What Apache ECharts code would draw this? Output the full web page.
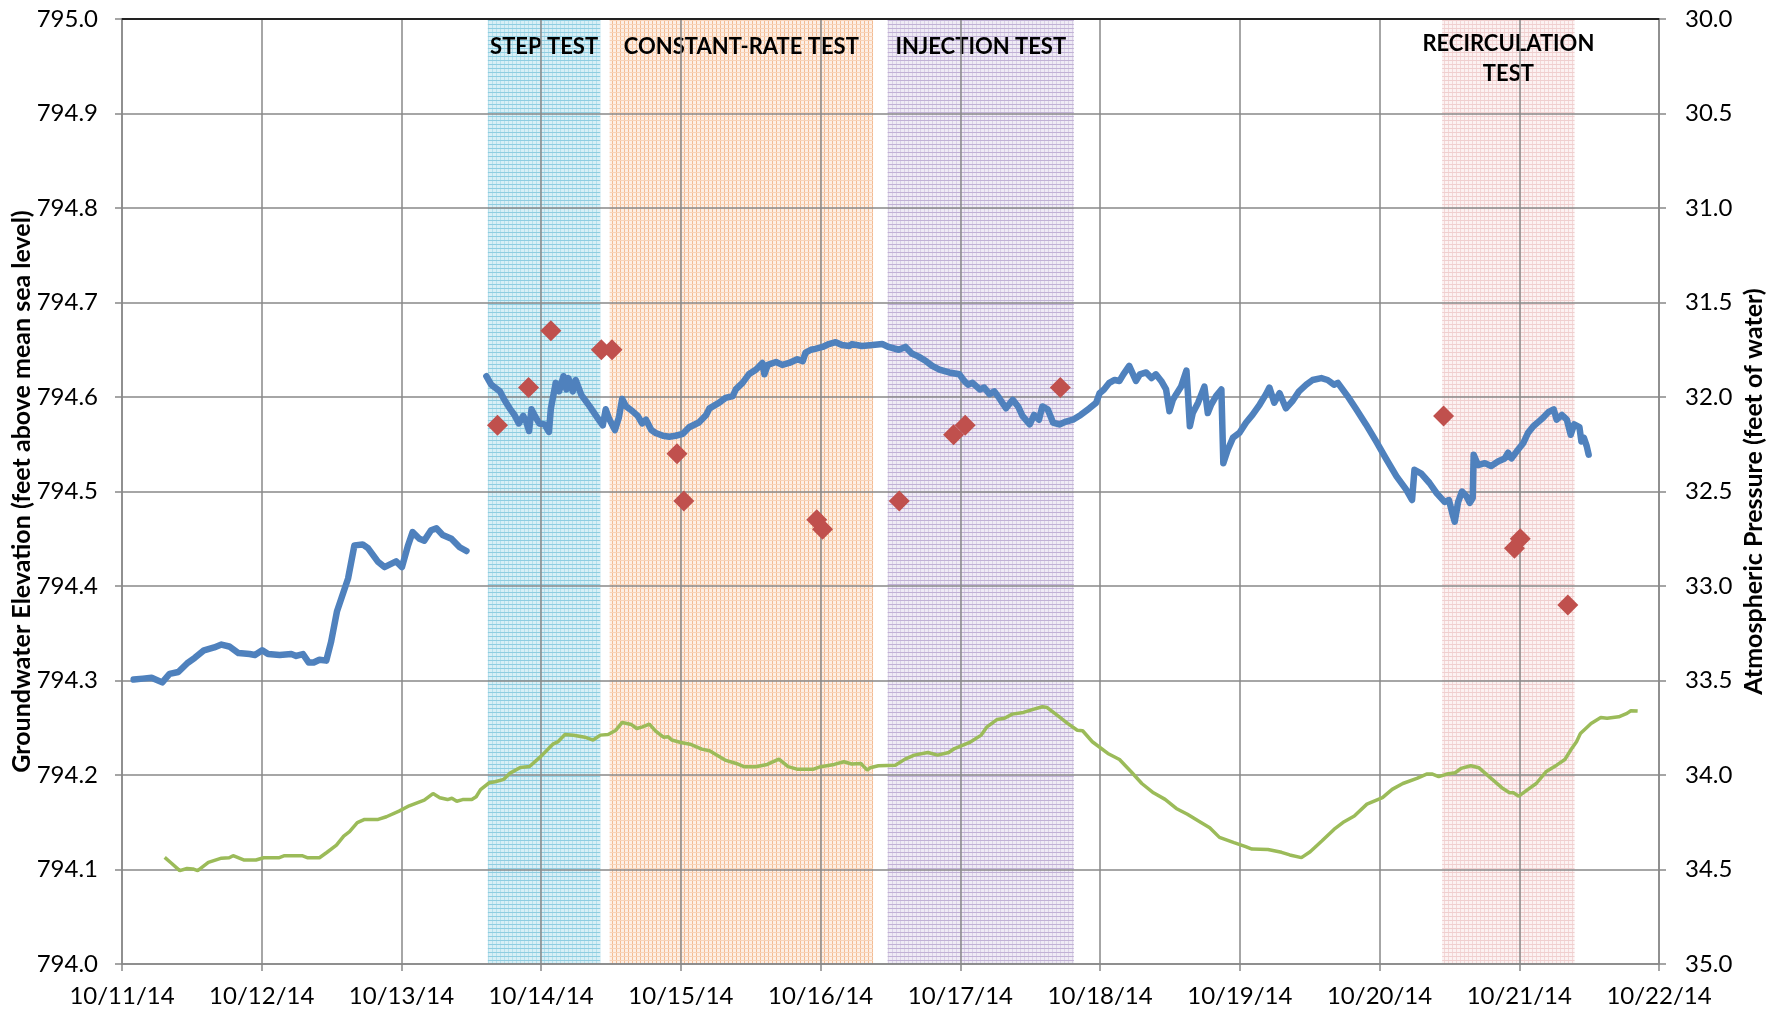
<!DOCTYPE html>
<html>
<head>
<meta charset="utf-8">
<title>Groundwater Elevation and Atmospheric Pressure</title>
<script src="https://cdn.jsdelivr.net/npm/echarts@6/dist/echarts.min.js"></script>
<style>
  html, body { margin: 0; padding: 0; background: #ffffff; }
  #chart { width: 1779px; height: 1015px; }
</style>
</head>
<body>
<div id="chart"></div>
<script>
// Groundwater elevation before the tests (feet above mean sea level), Oct 2014
const groundwaterBefore = [
  ['10-11 02:00', 794.301], ['10-11 03:35', 794.302], ['10-11 05:05', 794.303], ['10-11 06:55', 794.298],
  ['10-11 08:10', 794.307], ['10-11 09:40', 794.309], ['10-11 11:10', 794.318], ['10-11 12:30', 794.324],
  ['10-11 14:05', 794.332], ['10-11 15:50', 794.335], ['10-11 17:05', 794.338], ['10-11 18:25', 794.336],
  ['10-11 20:00', 794.329], ['10-11 21:55', 794.328], ['10-11 22:50', 794.327], ['10-12 00:05', 794.332],
  ['10-12 01:05', 794.328], ['10-12 03:05', 794.327], ['10-12 05:05', 794.328], ['10-12 05:55', 794.326],
  ['10-12 07:05', 794.328], ['10-12 08:05', 794.319], ['10-12 08:55', 794.319], ['10-12 09:55', 794.322],
  ['10-12 11:05', 794.321], ['10-12 11:55', 794.341], ['10-12 12:55', 794.373], ['10-12 14:50', 794.408],
  ['10-12 15:55', 794.443], ['10-12 17:20', 794.444], ['10-12 18:15', 794.440], ['10-12 19:55', 794.426],
  ['10-12 21:05', 794.420], ['10-12 23:05', 794.426], ['10-13 00:05', 794.420], ['10-13 01:05', 794.442],
  ['10-13 01:55', 794.457], ['10-13 03:05', 794.450], ['10-13 03:55', 794.448], ['10-13 05:05', 794.459],
  ['10-13 06:00', 794.461], ['10-13 07:05', 794.454], ['10-13 08:35', 794.450], ['10-13 10:00', 794.441],
  ['10-13 11:10', 794.437]
];

// Groundwater elevation during and after the aquifer tests
const groundwaterTests = [
  ['10-13 14:35', 794.622], ['10-13 15:25', 794.613], ['10-13 16:55', 794.606], ['10-13 17:40', 794.597],
  ['10-13 18:35', 794.588], ['10-13 19:25', 794.581], ['10-13 20:10', 794.572], ['10-13 20:55', 794.580],
  ['10-13 21:25', 794.574], ['10-13 21:55', 794.564], ['10-13 22:20', 794.587], ['10-13 22:55', 794.580],
  ['10-13 23:40', 794.572], ['10-14 00:35', 794.571], ['10-14 01:20', 794.563], ['10-14 01:40', 794.588],
  ['10-14 02:30', 794.615], ['10-14 03:05', 794.606], ['10-14 03:50', 794.622], ['10-14 04:20', 794.608],
  ['10-14 04:40', 794.620], ['10-14 05:25', 794.606], ['10-14 05:55', 794.618], ['10-14 06:55', 794.602],
  ['10-14 08:20', 794.590], ['10-14 09:40', 794.578], ['10-14 10:35', 794.570], ['10-14 11:05', 794.587],
  ['10-14 11:40', 794.577], ['10-14 12:40', 794.565], ['10-14 13:20', 794.578], ['10-14 13:55', 794.598],
  ['10-14 14:35', 794.590], ['10-14 15:40', 794.585], ['10-14 16:35', 794.580], ['10-14 17:20', 794.572],
  ['10-14 18:00', 794.576], ['10-14 18:55', 794.565], ['10-14 19:40', 794.562], ['10-14 20:55', 794.559],
  ['10-14 22:00', 794.558], ['10-14 23:05', 794.559], ['10-15 00:20', 794.561], ['10-15 01:25', 794.568],
  ['10-15 03:05', 794.573], ['10-15 04:20', 794.581], ['10-15 04:55', 794.588], ['10-15 06:35', 794.594],
  ['10-15 07:40', 794.599], ['10-15 08:55', 794.601], ['10-15 09:25', 794.608], ['10-15 10:35', 794.615],
  ['10-15 11:40', 794.624], ['10-15 12:55', 794.629], ['10-15 14:00', 794.636], ['10-15 14:20', 794.624],
  ['10-15 14:55', 794.634], ['10-15 16:20', 794.637], ['10-15 17:25', 794.634], ['10-15 18:35', 794.636],
  ['10-15 20:00', 794.640], ['10-15 20:55', 794.638], ['10-15 21:25', 794.647], ['10-15 22:20', 794.650],
  ['10-15 23:05', 794.651], ['10-16 00:20', 794.653], ['10-16 01:25', 794.656], ['10-16 02:35', 794.658],
  ['10-16 03:40', 794.655], ['10-16 04:55', 794.654], ['10-16 05:25', 794.656], ['10-16 07:05', 794.654],
  ['10-16 08:55', 794.655], ['10-16 10:35', 794.656], ['10-16 11:40', 794.653], ['10-16 13:25', 794.650],
  ['10-16 14:35', 794.653], ['10-16 15:40', 794.646], ['10-16 16:45', 794.643], ['10-16 18:05', 794.638],
  ['10-16 19:10', 794.633], ['10-16 20:25', 794.629], ['10-16 22:05', 794.626], ['10-16 23:50', 794.624],
  ['10-17 00:40', 794.617], ['10-17 01:20', 794.613], ['10-17 02:05', 794.615], ['10-17 03:20', 794.608],
  ['10-17 04:05', 794.610], ['10-17 05:00', 794.603], ['10-17 05:50', 794.606], ['10-17 06:40', 794.599],
  ['10-17 07:50', 794.588], ['10-17 09:00', 794.597], ['10-17 09:55', 794.590], ['10-17 10:40', 794.580],
  ['10-17 11:55', 794.571], ['10-17 12:40', 794.581], ['10-17 13:30', 794.576], ['10-17 14:05', 794.590],
  ['10-17 15:00', 794.587], ['10-17 15:55', 794.573], ['10-17 17:00', 794.571], ['10-17 18:10', 794.574],
  ['10-17 19:20', 794.576], ['10-17 20:40', 794.581], ['10-17 22:10', 794.588], ['10-17 23:20', 794.594],
  ['10-17 23:55', 794.604], ['10-18 00:40', 794.608], ['10-18 01:35', 794.615], ['10-18 02:30', 794.618],
  ['10-18 03:20', 794.617], ['10-18 04:00', 794.624], ['10-18 05:00', 794.633], ['10-18 05:35', 794.625],
  ['10-18 06:10', 794.617], ['10-18 06:50', 794.624], ['10-18 07:55', 794.626], ['10-18 08:50', 794.620],
  ['10-18 09:35', 794.624], ['10-18 10:30', 794.617], ['10-18 11:20', 794.608], ['10-18 11:55', 794.585],
  ['10-18 12:30', 794.597], ['10-18 13:05', 794.603], ['10-18 13:55', 794.611], ['10-18 14:50', 794.628],
  ['10-18 15:05', 794.604], ['10-18 15:25', 794.569], ['10-18 15:55', 794.583], ['10-18 16:50', 794.594],
  ['10-18 17:55', 794.611], ['10-18 18:30', 794.583], ['10-18 19:05', 794.592], ['10-18 19:55', 794.601],
  ['10-18 20:50', 794.608], ['10-18 21:00', 794.569], ['10-18 21:10', 794.530], ['10-18 21:55', 794.544],
  ['10-18 22:50', 794.557], ['10-18 23:55', 794.562], ['10-19 01:05', 794.573], ['10-19 02:10', 794.581],
  ['10-19 03:25', 794.592], ['10-19 04:30', 794.603], ['10-19 05:05', 794.610], ['10-19 05:55', 794.594],
  ['10-19 06:50', 794.604], ['10-19 07:55', 794.588], ['10-19 09:05', 794.596], ['10-19 10:10', 794.606],
  ['10-19 11:25', 794.613], ['10-19 12:30', 794.618], ['10-19 14:00', 794.620], ['10-19 15:05', 794.618],
  ['10-19 16:10', 794.613], ['10-19 16:50', 794.615], ['10-19 18:30', 794.601], ['10-19 20:00', 794.587],
  ['10-19 21:40', 794.571], ['10-19 23:25', 794.553], ['10-20 01:05', 794.535], ['10-20 02:55', 794.516],
  ['10-20 04:35', 794.502], ['10-20 05:35', 794.491], ['10-20 06:00', 794.523], ['10-20 07:10', 794.519],
  ['10-20 08:35', 794.509], ['10-20 09:50', 794.498], ['10-20 11:10', 794.489], ['10-20 11:55', 794.491],
  ['10-20 12:30', 794.477], ['10-20 12:55', 794.468], ['10-20 13:30', 794.489], ['10-20 14:10', 794.500],
  ['10-20 14:55', 794.495], ['10-20 15:30', 794.488], ['10-20 16:00', 794.493], ['10-20 16:10', 794.539],
  ['10-20 16:55', 794.528], ['10-20 18:05', 794.530], ['10-20 19:10', 794.527], ['10-20 20:25', 794.532],
  ['10-20 21:30', 794.535], ['10-20 22:05', 794.541], ['10-20 22:40', 794.535], ['10-20 23:30', 794.542],
  ['10-21 00:40', 794.551], ['10-21 01:30', 794.562], ['10-21 02:25', 794.569], ['10-21 03:20', 794.574],
  ['10-21 04:05', 794.578], ['10-21 05:00', 794.584], ['10-21 05:55', 794.587], ['10-21 06:25', 794.576],
  ['10-21 07:20', 794.581], ['10-21 08:10', 794.576], ['10-21 08:50', 794.560], ['10-21 09:25', 794.571],
  ['10-21 10:20', 794.568], ['10-21 10:40', 794.553], ['10-21 11:05', 794.557], ['10-21 11:35', 794.548],
  ['10-21 11:55', 794.539]
];

// Atmospheric pressure (feet of water), plotted on the inverted right axis
const pressure = [
  ['10-11 07:20', 34.436], ['10-11 08:30', 34.467], ['10-11 09:55', 34.506], ['10-11 11:10', 34.495],
  ['10-11 12:10', 34.497], ['10-11 13:00', 34.506], ['10-11 14:50', 34.462], ['10-11 17:05', 34.440],
  ['10-11 18:25', 34.438], ['10-11 19:05', 34.427], ['10-11 21:00', 34.450], ['10-11 23:00', 34.450],
  ['10-12 00:20', 34.438], ['10-12 02:55', 34.438], ['10-12 03:55', 34.427], ['10-12 06:55', 34.427],
  ['10-12 07:55', 34.438], ['10-12 09:55', 34.438], ['10-12 11:10', 34.410], ['10-12 12:50', 34.371],
  ['10-12 14:05', 34.323], ['10-12 15:05', 34.300], ['10-12 16:25', 34.252], ['10-12 17:40', 34.235],
  ['10-12 20:00', 34.235], ['10-12 21:25', 34.221], ['10-12 23:35', 34.191], ['10-13 01:20', 34.163],
  ['10-13 03:55', 34.133], ['10-13 05:25', 34.098], ['10-13 06:35', 34.120], ['10-13 07:55', 34.130],
  ['10-13 08:40', 34.123], ['10-13 09:30', 34.139], ['10-13 10:30', 34.130], ['10-13 12:05', 34.130],
  ['10-13 12:50', 34.115], ['10-13 13:35', 34.077], ['10-13 15:05', 34.041], ['10-13 16:05', 34.036],
  ['10-13 17:35', 34.023], ['10-13 18:40', 33.990], ['10-13 20:25', 33.960], ['10-13 22:00', 33.955],
  ['10-14 00:00', 33.900], ['10-14 02:00', 33.837], ['10-14 02:50', 33.825], ['10-14 04:05', 33.786],
  ['10-14 05:35', 33.790], ['10-14 07:30', 33.800], ['10-14 08:55', 33.815], ['10-14 10:10', 33.789],
  ['10-14 11:30', 33.786], ['10-14 12:50', 33.763], ['10-14 13:55', 33.722], ['10-14 15:30', 33.733],
  ['10-14 16:25', 33.754], ['10-14 17:25', 33.745], ['10-14 18:35', 33.731], ['10-14 19:40', 33.768],
  ['10-14 21:00', 33.800], ['10-14 21:50', 33.798], ['10-14 22:25', 33.815], ['10-15 00:00', 33.828],
  ['10-15 01:35', 33.837], ['10-15 03:35', 33.863], ['10-15 04:55', 33.872], ['10-15 07:35', 33.921],
  ['10-15 09:30', 33.939], ['10-15 10:50', 33.956], ['10-15 12:50', 33.956], ['10-15 14:50', 33.944],
  ['10-15 16:50', 33.916], ['10-15 18:25', 33.956], ['10-15 20:05', 33.970], ['10-15 22:40', 33.970],
  ['10-16 00:00', 33.956], ['10-16 02:20', 33.944], ['10-16 04:00', 33.930], ['10-16 05:20', 33.942],
  ['10-16 06:55', 33.939], ['10-16 08:00', 33.974], ['10-16 08:30', 33.962], ['10-16 09:55', 33.951],
  ['10-16 12:50', 33.948], ['10-16 14:30', 33.916], ['10-16 16:05', 33.895], ['10-16 18:25', 33.881],
  ['10-16 20:05', 33.895], ['10-16 22:00', 33.881], ['10-16 23:00', 33.860], ['10-17 01:35', 33.828],
  ['10-17 03:35', 33.789], ['10-17 04:35', 33.745], ['10-17 06:20', 33.706], ['10-17 07:35', 33.700],
  ['10-17 08:55', 33.678], ['10-17 10:50', 33.669], ['10-17 12:30', 33.653], ['10-17 14:05', 33.639],
  ['10-17 14:55', 33.643], ['10-17 16:50', 33.689], ['10-17 18:25', 33.727], ['10-17 20:05', 33.763],
  ['10-17 21:00', 33.766], ['10-17 22:40', 33.824], ['10-18 01:20', 33.886], ['10-18 03:20', 33.918],
  ['10-18 05:20', 33.983], ['10-18 07:10', 34.045], ['10-18 09:10', 34.094], ['10-18 11:10', 34.129],
  ['10-18 13:05', 34.177], ['10-18 15:00', 34.208], ['10-18 16:50', 34.242], ['10-18 18:50', 34.279],
  ['10-18 20:30', 34.330], ['10-18 23:00', 34.358], ['10-19 01:00', 34.379], ['10-19 02:05', 34.392],
  ['10-19 04:50', 34.394], ['10-19 07:10', 34.409], ['10-19 08:35', 34.423], ['10-19 10:35', 34.437],
  ['10-19 12:05', 34.406], ['10-19 14:05', 34.349], ['10-19 16:10', 34.288], ['10-19 17:55', 34.247],
  ['10-19 19:40', 34.217], ['10-19 21:50', 34.154], ['10-20 00:30', 34.120], ['10-20 02:10', 34.076],
  ['10-20 04:00', 34.045], ['10-20 06:25', 34.018], ['10-20 08:05', 33.995], ['10-20 09:05', 33.995],
  ['10-20 10:10', 34.009], ['10-20 11:35', 33.995], ['10-20 13:00', 33.988], ['10-20 14:00', 33.965],
  ['10-20 15:40', 33.951], ['10-20 17:05', 33.962], ['10-20 19:10', 34.018], ['10-20 21:00', 34.067],
  ['10-20 22:20', 34.094], ['10-20 23:00', 34.094], ['10-20 23:55', 34.112], ['10-21 01:30', 34.076],
  ['10-21 02:55', 34.045], ['10-21 04:35', 33.983], ['10-21 06:25', 33.948], ['10-21 07:50', 33.918],
  ['10-21 08:50', 33.868], ['10-21 09:50', 33.824], ['10-21 10:30', 33.780], ['10-21 12:20', 33.727],
  ['10-21 14:00', 33.696], ['10-21 15:05', 33.700], ['10-21 17:05', 33.692], ['10-21 18:30', 33.674],
  ['10-21 19:10', 33.660], ['10-21 20:20', 33.662]
];

// Manual water-level measurements (feet above mean sea level)
const manualReadings = [
  ['10-13 16:30', 794.570], ['10-13 21:50', 794.610], ['10-14 01:40', 794.670], ['10-14 10:20', 794.650],
  ['10-14 12:10', 794.650], ['10-14 23:20', 794.540], ['10-15 00:30', 794.490], ['10-15 23:20', 794.470],
  ['10-16 00:20', 794.460], ['10-16 13:30', 794.490], ['10-16 22:50', 794.560], ['10-17 00:50', 794.570],
  ['10-17 17:10', 794.610], ['10-20 11:00', 794.580], ['10-20 23:10', 794.440], ['10-21 00:10', 794.450],
  ['10-21 08:20', 794.380]
];

// Test periods: [label, start, end]
const testPeriods = [
  ['STEP TEST', '10-13 14:50', '10-14 10:10'],
  ['CONSTANT-RATE TEST', '10-14 11:45', '10-16 09:00'],
  ['INJECTION TEST', '10-16 11:30', '10-17 19:30'],
  ['RECIRCULATION\nTEST', '10-20 10:45', '10-21 09:30']
];

// Axis ranges and tick steps
const timeRange = ['10-11 00:00', '10-22 00:00'];
const elevationRange = [794.0, 795.0, 0.1];
const pressureRange = [30.0, 35.0, 0.5];

const FONT = 'Lato, "Open Sans", sans-serif';
const DAY = 24 * 3600 * 1000;
const GRID_COLOR = '#888888';

// 'MM-DD HH:mm' in 2014 -> UTC milliseconds
function toTime(s) {
  const [md, hm] = s.split(' ');
  const [mo, d] = md.split('-').map(Number);
  const [h, m] = hm.split(':').map(Number);
  return Date.UTC(2014, mo - 1, d, h, m);
}
const toPoints = arr => arr.map(([s, v]) => [toTime(s), v]);

// Small tiled fill patterns for the shaded test periods
function makePattern(base, rowLine, colLine) {
  const c = document.createElement('canvas');
  c.width = 4; c.height = 4;
  const ctx = c.getContext('2d');
  ctx.fillStyle = base; ctx.fillRect(0, 0, 4, 4);
  ctx.fillStyle = colLine; ctx.fillRect(0, 0, 1, 4);
  ctx.fillStyle = rowLine; ctx.fillRect(0, 0, 4, 1);
  return { image: c, repeat: 'repeat' };
}
const patterns = [
  makePattern('#d8eff6', '#8fcde1', '#b5e0ec'),
  makePattern('#fdefe5', '#f8d3b8', '#f3bc93'),
  makePattern('#efebf5', '#c1b1d6', '#dad1e6'),
  makePattern('#fcf2f2', '#f0cfcf', '#f3d7d7')
];

const bandAreas = testPeriods.map(([name, start, end], i) => [
  {
    name,
    xAxis: toTime(start),
    itemStyle: { color: patterns[i] },
    label: { distance: name.indexOf('\n') >= 0 ? 10 : 13 }
  },
  { xAxis: toTime(end) }
]);

const chart = echarts.init(document.getElementById('chart'), null, { renderer: 'canvas' });

const axisText = { fontFamily: FONT, fontSize: 24, color: '#000' };
const titleText = { fontFamily: FONT, fontSize: 25, fontWeight: 'bold', color: '#000' };

chart.setOption({
  animation: false,
  backgroundColor: '#ffffff',
  grid: { left: 122, right: 120, top: 19, bottom: 51, containLabel: false, outerBoundsMode: 'none' },
  xAxis: [
    {
      type: 'value',
      z: 1,
      min: toTime(timeRange[0]),
      max: toTime(timeRange[1]),
      interval: DAY,
      axisLine: { show: true, lineStyle: { color: GRID_COLOR, width: 1.5 } },
      axisTick: { show: true, length: 7, lineStyle: { color: GRID_COLOR, width: 1.5 } },
      splitLine: { show: true, lineStyle: { color: GRID_COLOR, width: 1.5 } },
      axisLabel: Object.assign({}, axisText, {
        margin: 20,
        showMinLabel: true,
        showMaxLabel: true,
        formatter: v => {
          const d = new Date(v);
          return (d.getUTCMonth() + 1) + '/' + d.getUTCDate() + '/14';
        }
      })
    },
    {
      type: 'value',
      position: 'top',
      z: 1,
      min: toTime(timeRange[0]),
      max: toTime(timeRange[1]),
      interval: DAY,
      axisLine: { show: true, lineStyle: { color: '#222222', width: 2 } },
      axisTick: { show: false },
      axisLabel: { show: false },
      splitLine: { show: false }
    }
  ],
  yAxis: [
    {
      type: 'value',
      z: 1,
      min: elevationRange[0],
      max: elevationRange[1],
      interval: elevationRange[2],
      name: 'Groundwater Elevation (feet above mean sea level)',
      nameLocation: 'middle',
      nameGap: 88,
      nameMoveOverlap: false,
      nameTextStyle: titleText,
      axisLine: { show: true, lineStyle: { color: GRID_COLOR, width: 1.5 } },
      axisTick: { show: true, length: 7, lineStyle: { color: GRID_COLOR, width: 1.5 } },
      splitLine: { show: true, lineStyle: { color: GRID_COLOR, width: 1.5 } },
      axisLabel: Object.assign({}, axisText, { margin: 24, formatter: v => v.toFixed(1) })
    },
    {
      type: 'value',
      z: 1,
      position: 'right',
      inverse: true,
      min: pressureRange[0],
      max: pressureRange[1],
      interval: pressureRange[2],
      name: 'Atmospheric Pressure (feet of water)',
      nameLocation: 'middle',
      nameGap: 82,
      nameMoveOverlap: false,
      nameRotate: 90,
      nameTextStyle: titleText,
      axisLine: { show: true, lineStyle: { color: GRID_COLOR, width: 1.5 } },
      axisTick: { show: true, length: 7, lineStyle: { color: GRID_COLOR, width: 1.5 } },
      splitLine: { show: false },
      axisLabel: Object.assign({}, axisText, { margin: 26, formatter: v => v.toFixed(1) })
    }
  ],
  series: [
    {
      name: 'Test periods',
      type: 'line',
      data: [],
      silent: true,
      markArea: {
        z: 0,
        silent: true,
        label: {
          show: true,
          position: 'insideTop',
          fontFamily: FONT,
          fontWeight: 'bold',
          fontSize: 22,
          lineHeight: 30,
          color: '#000'
        },
        data: bandAreas
      }
    },
    {
      name: 'Atmospheric Pressure',
      type: 'line',
      yAxisIndex: 1,
      showSymbol: false,
      lineStyle: { color: '#9BBB59', width: 3.5 },
      itemStyle: { color: '#9BBB59' },
      data: toPoints(pressure)
    },
    {
      name: 'Groundwater Elevation',
      type: 'line',
      showSymbol: false,
      lineStyle: { color: '#4F81BD', width: 6.5, join: 'round', cap: 'round' },
      itemStyle: { color: '#4F81BD' },
      data: toPoints(groundwaterBefore)
    },
    {
      name: 'Groundwater Elevation',
      type: 'line',
      showSymbol: false,
      lineStyle: { color: '#4F81BD', width: 6.5, join: 'round', cap: 'round' },
      itemStyle: { color: '#4F81BD' },
      data: toPoints(groundwaterTests)
    },
    {
      name: 'Manual Measurement',
      type: 'scatter',
      symbol: 'diamond',
      symbolSize: 21,
      itemStyle: { color: '#C0504D', opacity: 1 },
      data: toPoints(manualReadings)
    }
  ]
});
</script>
</body>
</html>
